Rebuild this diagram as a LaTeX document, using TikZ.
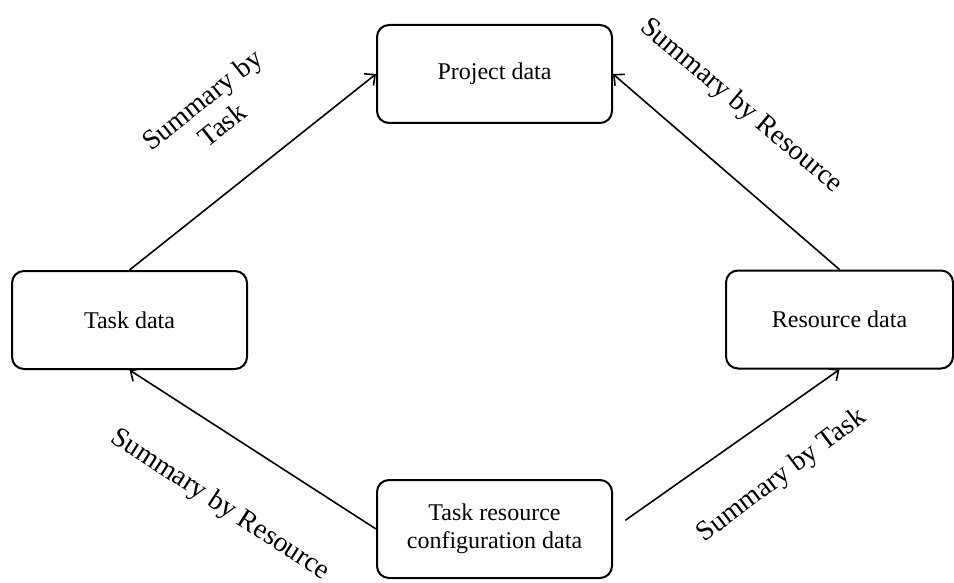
\documentclass[tikz,border=0pt]{standalone}
\usepackage{fontspec}
\setmainfont{Liberation Serif}
\usetikzlibrary{arrows.meta}

\begin{document}
\begin{tikzpicture}[x=0.5pt, y=-0.5pt, line width=0.8pt,
 >={Straight Barb[length=4pt,width=7.5pt]},
 box/.style={draw, line width=1pt, rounded corners=6pt, minimum width=117.5pt,
   minimum height=49pt, align=center, inner sep=0pt,
   font=\fontsize{12}{14}\selectfont},
 lbl/.style={align=center, inner sep=0pt, font=\fontsize{14}{16}\selectfont}]
 \useasboundingbox (0,0) rectangle (954,583);

 \node[box] (proj) at (494.5,74) {Project data};
 \node[box] (task) at (129.5,320) {Task data};
 \node[box, minimum width=113.5pt] (res) at (839.5,319.5) {Resource data};
 \node[box] (conf) at (494.5,529) {Task resource\\configuration data};

 \draw [->] (task.north) -- (proj.west);
 \draw [->] (res.north) -- (proj.east);
 \draw [->] (conf.west) -- (task.south);
 \draw [->, shorten <=7.5pt] (conf.east) -- (res.south);

 \node[lbl, rotate=38.5] (sumtask) at (212,112) {Summary by\\Task};
 \node[lbl, rotate=-40] (sumres) at (741,106) {Summary by Resource};
 \node[lbl, rotate=-33] (sumresb) at (220,505) {Summary by Resource};
 \node[lbl, rotate=37] (sumtaskb) at (782,476) {Summary by Task};

\end{tikzpicture}
\end{document}
